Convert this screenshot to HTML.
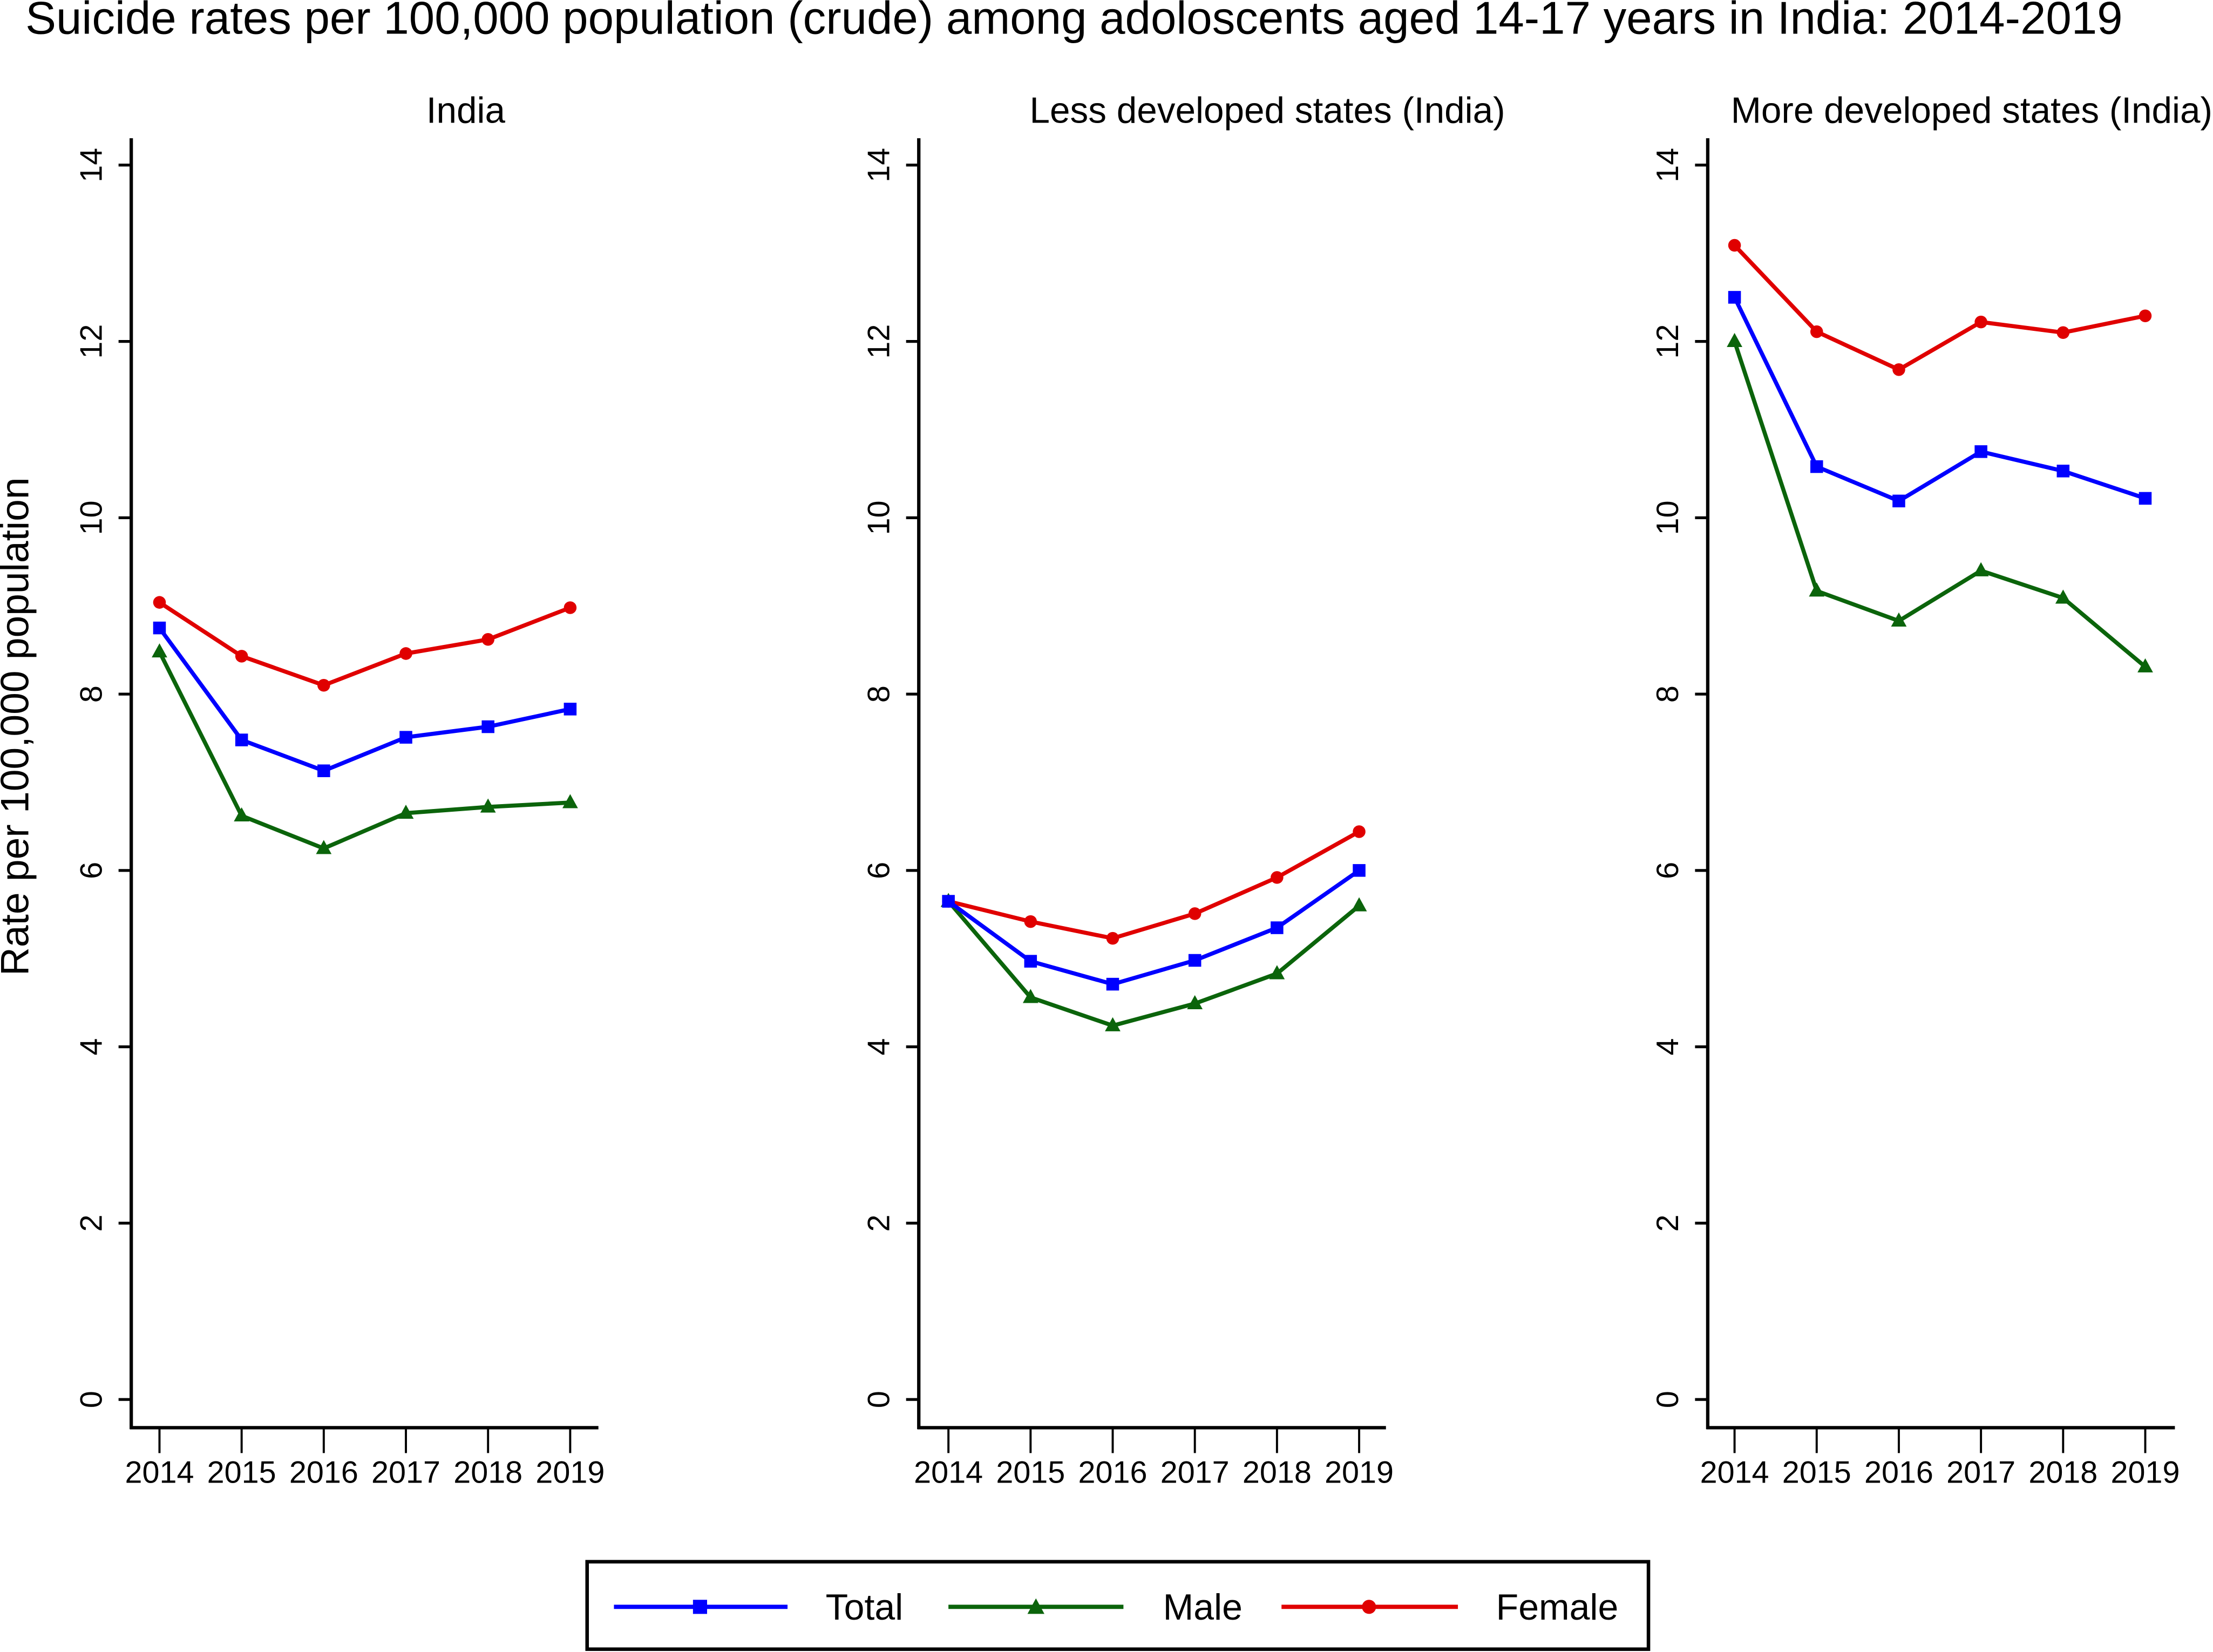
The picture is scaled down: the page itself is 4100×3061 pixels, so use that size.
<!DOCTYPE html>
<html><head><meta charset="utf-8"><style>
html,body{margin:0;padding:0;background:#fff}
svg{display:block}
text{font-family:"Liberation Sans",Arial,sans-serif;fill:#000}
</style></head><body>
<svg id="chart" width="4100" height="3061" viewBox="0 0 1568 1171" preserveAspectRatio="none" xmlns="http://www.w3.org/2000/svg">
<rect width="1568" height="1171" fill="#fff"/>
<text x="761" y="24" font-size="32.6" text-anchor="middle">Suicide rates per 100,000 population (crude) among adoloscents aged 14-17 years in India: 2014-2019</text>
<text transform="translate(20,515) rotate(-90)" font-size="28" text-anchor="middle">Rate per 100,000 population</text>
<g id="panels"></g>
<g>
<rect x="416" y="1107" width="752" height="62" fill="none" stroke="#000" stroke-width="2.5"/>
<line x1="435" y1="1139" x2="558" y2="1139" stroke="#0000ff" stroke-width="3"/>
<rect x="491" y="1134" width="10" height="10" fill="#0000ff"/>
<text x="585" y="1148" font-size="26">Total</text>
<line x1="672" y1="1139" x2="796" y2="1139" stroke="#0b640b" stroke-width="3"/>
<polygon points="734,1133 740,1144 728,1144" fill="#0b640b"/>
<text x="824" y="1148" font-size="26">Male</text>
<line x1="908" y1="1139" x2="1033" y2="1139" stroke="#e00000" stroke-width="3"/>
<circle cx="970" cy="1139" r="5" fill="#e00000"/>
<text x="1060" y="1148" font-size="26">Female</text>
</g>
</svg>
<script>
const years = ['2014','2015','2016','2017','2018','2019'];
const yTicks = [0,2,4,6,8,10,12,14];
const panelTitles = ['India','Less developed states (India)','More developed states (India)'];
const indiaTotal = [8.75,7.48,7.13,7.51,7.63,7.83];
const indiaMale = [8.48,6.62,6.25,6.65,6.72,6.77];
const indiaFemale = [9.04,8.43,8.10,8.46,8.62,8.98];
const lessTotal = [5.65,4.97,4.71,4.98,5.35,6.00];
const lessMale = [5.65,4.56,4.24,4.49,4.83,5.60];
const lessFemale = [5.65,5.42,5.23,5.51,5.92,6.44];
const moreTotal = [12.50,10.58,10.19,10.75,10.53,10.22];
const moreMale = [12.00,9.17,8.83,9.40,9.09,8.31];
const moreFemale = [13.09,12.11,11.68,12.22,12.10,12.29];

const NS='http://www.w3.org/2000/svg';
const root=document.getElementById('panels');
function mk(tag,attrs,parent){const e=document.createElementNS(NS,tag);for(const k in attrs)e.setAttribute(k,attrs[k]);parent.appendChild(e);return e;}
const layouts=[{ax:93,x0:113,title:330},{ax:651,x0:672,title:898},{ax:1210,x0:1229,title:1397}];
const panelData=[[indiaTotal,indiaMale,indiaFemale],[lessTotal,lessMale,lessFemale],[moreTotal,moreMale,moreFemale]];
const colors=['#0000ff','#0b640b','#e00000'];
const seriesNames=['total','male','female'];
const yScale=v=>992-v*(992-117)/14;
panelData.forEach((series,pi)=>{
  const L=layouts[pi];
  const step=291/(years.length-1);
  const xScale=i=>L.x0+i*step;
  const g=mk('g',{},root);
  
  
  const t=mk('text',{x:L.title,y:87,'font-size':25.8,'text-anchor':'middle'},g);
  t.textContent=panelTitles[pi];
  
  
  const ya=mk('line',{x1:L.ax,y1:98,x2:L.ax,y2:1013,stroke:'#000','stroke-width':2.4},g);
  
  
  const xa=mk('line',{x1:L.ax-1,y1:1012,x2:L.ax+331,y2:1012,stroke:'#000','stroke-width':2.4},g);
  
  
  yTicks.forEach(v=>{
    const y=yScale(v);
    mk('line',{x1:L.ax-9,y1:y,x2:L.ax,y2:y,stroke:'#000','stroke-width':2},g);
    const tl=mk('text',{transform:`translate(${L.ax-21},${y}) rotate(-90)`,'font-size':22,'text-anchor':'middle'},g);
    tl.textContent=v;
    
    
  });
  years.forEach((yr,i)=>{
    const x=xScale(i);
    mk('line',{x1:x,y1:1013,x2:x,y2:1030,stroke:'#000','stroke-width':1.5},g);
    const tl=mk('text',{x:x,y:1051,'font-size':22,'text-anchor':'middle'},g);
    tl.textContent=yr;
    
    
  });
  [2,1,0].forEach(si=>{
    const vals=series[si],c=colors[si];
    const pl=mk('polyline',{points:vals.map((v,i)=>xScale(i)+','+yScale(v)).join(' '),fill:'none',stroke:c,'stroke-width':2.9},g);
    
    
    vals.forEach((v,i)=>{
      const x=xScale(i),y=yScale(v);let m;
      if(si===0)m=mk('rect',{x:x-4.5,y:y-4.5,width:9,height:9,fill:c},g);
      else if(si===1)m=mk('polygon',{points:`${x},${y-6} ${x+5.5},${y+4} ${x-5.5},${y+4}`,fill:c},g);
      else m=mk('circle',{cx:x,cy:y,r:4.5,fill:c},g);
      
      
    });
  });
});
</script>
</body></html>
